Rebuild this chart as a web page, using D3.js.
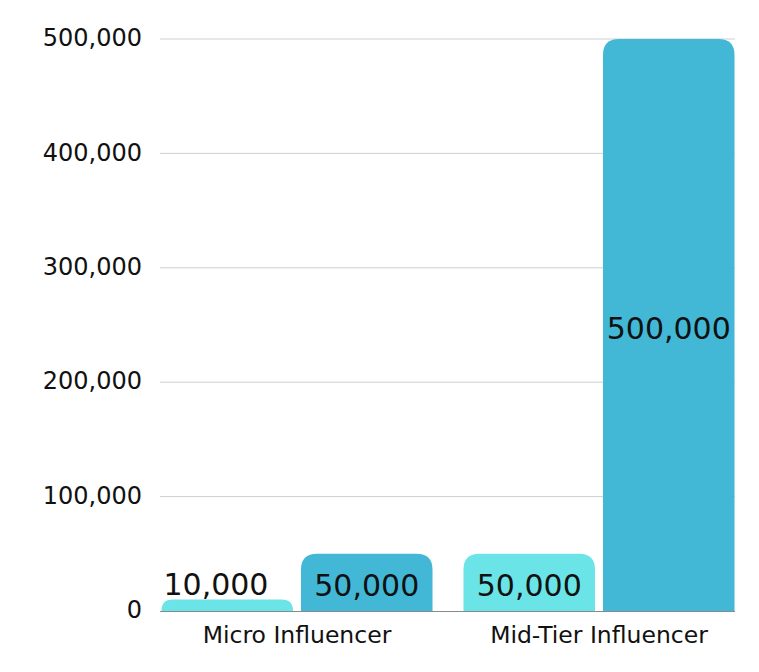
<!DOCTYPE html>
<html><head><meta charset="utf-8">
<script src="https://cdn.jsdelivr.net/npm/d3@7"></script>
<style>body{margin:0;background:#fff}svg{display:block}text{font-family:"DejaVu Sans",sans-serif;fill:#111}</style>
</head><body>
<svg id="c" width="759" height="672"></svg>
<script>
const categories = ["Micro Influencer", "Mid-Tier Influencer"];
const seriesNames = ["A", "B"];
const seriesA = [10000, 50000];
const seriesB = [50000, 500000];
const yTicks = [0, 100000, 200000, 300000, 400000, 500000];
const colors = ["#6ae4e6", "#42b8d6"];

const svg = d3.select("#c");
const plotL = 160, plotR = 735, plotT = 39, plotB = 611;
const y = d3.scaleLinear().domain([0, 500000]).range([plotB, plotT]);
const x0 = d3.scaleBand().domain(categories).range([146, 750]).padding(0);
const x1 = d3.scaleBand().domain(seriesNames).range([0, x0.bandwidth()]).paddingInner(0.057).paddingOuter(0.111);
const fmt = d3.format(",");

// gridlines
svg.append("g").selectAll("line").data(yTicks.filter(d => d > 0)).join("line")
  .attr("x1", plotL).attr("x2", plotR).attr("y1", d => y(d)).attr("y2", d => y(d))
  .attr("stroke", "#cfcfcf").attr("stroke-width", 1);

// y labels
svg.append("g").selectAll("text").data(yTicks).join("text")
  .attr("x", 142).attr("y", d => y(d)).attr("dy", "0.3em")
  .attr("text-anchor", "end").style("font-size", "24px")
  .text(d => fmt(d));

const data = [];
categories.forEach((c, i) => {
  data.push({cat: c, s: "A", v: seriesA[i], color: colors[0]});
  data.push({cat: c, s: "B", v: seriesB[i], color: colors[1]});
});

function barPath(x, w, top, bot) {
  const h = bot - top;
  const r = Math.min(16, h, w / 2);
  return `M${x},${bot}V${top + r}Q${x},${top} ${x + r},${top}H${x + w - r}Q${x + w},${top} ${x + w},${top + r}V${bot}Z`;
}

svg.append("g").selectAll("path").data(data).join("path")
  .attr("d", d => barPath(x0(d.cat) + x1(d.s), x1.bandwidth(), y(d.v), y(0)))
  .attr("fill", d => d.color);

// axis line
svg.append("line").attr("x1", plotL).attr("x2", plotR).attr("y1", plotB + 0.5).attr("y2", plotB + 0.5)
  .attr("stroke", "#8a8a8a").attr("stroke-width", 1);

// bar labels
const inside = d => (y(0) - y(d.v)) > 40;
svg.append("g").selectAll("text").data(data).join("text")
  .attr("x", d => inside(d) ? x0(d.cat) + x1(d.s) + x1.bandwidth() / 2 : x0(d.cat) + x1(d.s) + 2)
  .attr("y", d => inside(d) ? (y(d.v) + y(0)) / 2 : y(d.v) - 5)
  .attr("dy", d => inside(d) ? "0.45em" : "0")
  .attr("text-anchor", d => inside(d) ? "middle" : "start").style("font-size", "30px")
  .text(d => fmt(d.v));

// category labels
svg.append("g").selectAll("text").data(categories).join("text")
  .attr("x", d => x0(d) + x0.bandwidth() / 2).attr("y", 643)
  .attr("text-anchor", "middle").style("font-size", "23.5px")
  .text(d => d);
</script>
</body></html>
